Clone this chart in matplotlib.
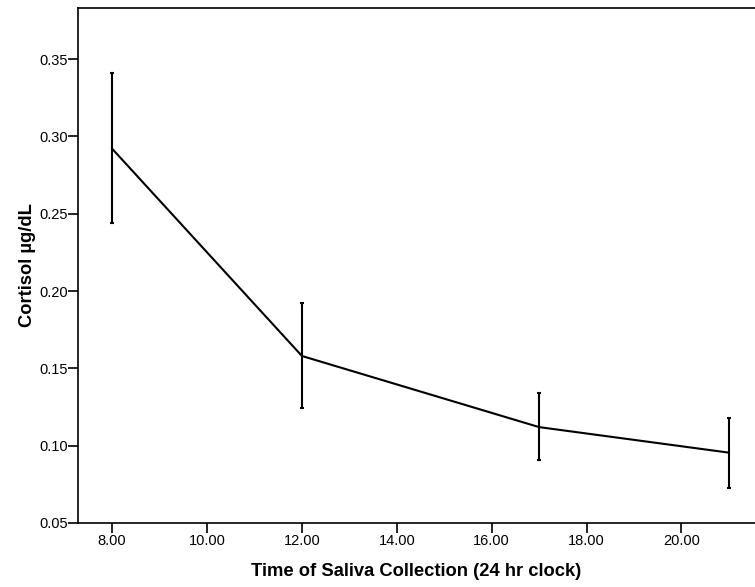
import matplotlib
matplotlib.use("Agg")
import matplotlib.pyplot as plt

plt.rcParams['font.family'] = ['Liberation Sans', 'DejaVu Sans']

# hour of collection, mean cortisol and error bar ends
hours = [8, 12, 17, 21]
cortisol = [0.292, 0.158, 0.112, 0.0955]
err_hi = [0.341, 0.192, 0.134, 0.118]
err_lo = [0.244, 0.1245, 0.091, 0.0724]

x_ticks = [8, 10, 12, 14, 16, 18, 20]
y_ticks = [0.05, 0.10, 0.15, 0.20, 0.25, 0.30, 0.35]

fig = plt.figure(figsize=(7.55, 5.87), dpi=100)
ax = fig.add_axes([78/755, 1 - 523/587, 1 - 78/755, (523 - 8)/587])

yerr = [[c - lo for c, lo in zip(cortisol, err_lo)],
        [hi - c for c, hi in zip(cortisol, err_hi)]]
ax.errorbar(hours, cortisol, yerr=yerr, color='black', lw=1.5,
            elinewidth=1.5, capsize=1.5, capthick=1.5)

ax.set_xlim(7.28, 21.55)
ax.set_ylim(0.05, 0.383)
ax.set_xticks(x_ticks)
ax.set_xticklabels(['%.2f' % t for t in x_ticks])
ax.set_yticks(y_ticks)
ax.set_yticklabels(['%.2f' % t for t in y_ticks])
ax.tick_params(direction='out', length=7, width=1.2, labelsize=10.5, pad=0.5)
ax.tick_params(axis='x', pad=1)
ax.spines['right'].set_visible(False)
for s in ['left', 'top', 'bottom']:
    ax.spines[s].set_linewidth(1.2)

ax.set_xlabel('Time of Saliva Collection (24 hr clock)', fontsize=13.2,
              fontweight='bold', labelpad=11)
ax.set_ylabel('Cortisol µg/dL', fontsize=13.2, fontweight='bold', labelpad=2)

fig.savefig('out.png', dpi=100)
